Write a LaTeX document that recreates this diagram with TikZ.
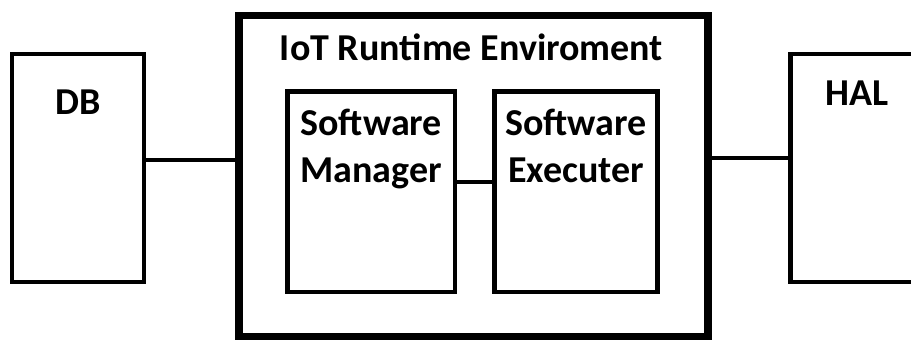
\documentclass[tikz,border=0pt]{standalone}
\usepackage{fontspec}
\setmainfont{Carlito}
\usetikzlibrary{positioning}

\begin{document}
\begin{tikzpicture}[x=1pt, y=-1pt,
    box/.style={draw, line width=4.5pt, minimum width=#1, minimum height=228pt},
    boxtext/.style={font=\fontsize{38}{47}\selectfont\bfseries, inner sep=0pt, align=center},
    link/.style={line width=4pt}]
    \clip (0,0) rectangle (911,340);
    \fill[white] (0,0) rectangle (911,340);

    % Boxes
    \node[box=132pt] (db) at (78,168) {};
    \node[box=133pt] (hal) at (857,168) {};
    \node[draw, line width=7.5pt, minimum width=469pt, minimum height=321.5pt] (env) at (473.5,176.25) {};
    \node[box=167.5pt, minimum height=200.5pt] (manager) at (371.25,191.75) {};
    \node[box=163pt, minimum height=200.5pt] (executer) at (576,191.75) {};

    % Labels
    \node[boxtext, below=38pt of db.north] (dblabel) {DB};
    \node[boxtext, below=29pt of hal.north] (hallabel) {HAL};
    \node[boxtext, below=21.5pt of env.north, xshift=-2pt] (envlabel) {IoT Runtime Enviroment};
    \node[boxtext, below=19.5pt of manager.north] (managerlabel) {Software\\Manager};
    \node[boxtext, below=19.5pt of executer.north] (executerlabel) {Software\\Executer};

    % Links
    \coordinate (dbout) at ([yshift=8pt]db.east);
    \coordinate (halin) at ([yshift=10pt]hal.west);
    \coordinate (mgrout) at ([yshift=9.5pt]manager.east);
    \draw[link] (dbout) -- (dbout -| env.west);
    \draw[link] (halin -| env.east) -- (halin);
    \draw[link] (mgrout) -- (mgrout -| executer.west);
\end{tikzpicture}
\end{document}
